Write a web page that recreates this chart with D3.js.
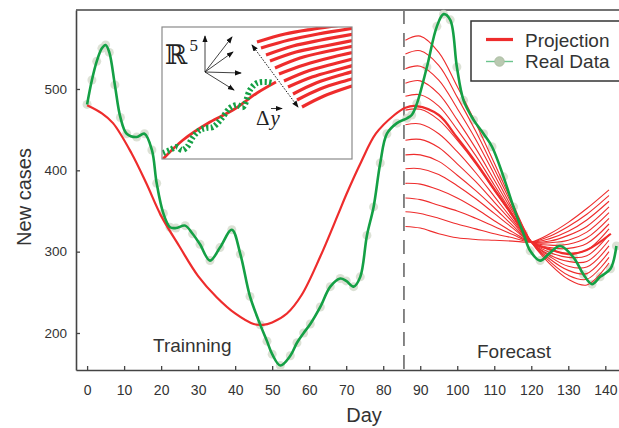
<!DOCTYPE html>
<html>
<head>
<meta charset="utf-8">
<script src="https://cdn.jsdelivr.net/npm/d3@7"></script>
<style>
  body { margin: 0; background: #fff; }
  svg { display: block; font-family: "Liberation Sans", Arial, sans-serif; }
</style>
</head>
<body>
<div id="chart"></div>
<script>
var width = 619, height = 428;

// real data (green curve + grey dots)
var realDays = [0, 1.3, 2.6, 4, 5, 6, 7.5, 9, 10.7, 13.4, 15.5, 17.5, 18.8, 20.6, 22.4, 24, 26.5, 28.5,
  30.5, 33.2, 35.9, 39.1, 41.4, 44, 46.8, 48.6, 50, 52.2, 54.9, 56.7, 58.5, 60.3, 63, 65.7, 68.4, 70,
  72, 73.8, 75.6, 77.4, 79.2, 81, 83.7, 86.4, 87.7, 89.1, 91.8, 94.5, 96.3, 98.1, 99.9, 101.7, 104.4,
  107.1, 109.4, 112.5, 115.2, 117.9, 119.7, 122.4, 124.7, 127.8, 131.4, 134.1, 136.4, 138.6, 141.4, 143];
var realValues = [481, 511, 534, 550, 554, 545, 505, 465, 445, 441, 445, 425, 384, 347, 330, 329, 332, 322,
  309, 289, 305, 327, 297, 245, 210, 190, 174, 160, 172, 188, 200, 211, 232, 257, 267, 264,
  257, 269, 320, 355, 409, 445, 458, 464, 468, 482, 527, 577, 592, 585, 527, 486, 462,
  445, 429, 392, 355, 322, 301, 289, 297, 307, 293, 272, 260, 269, 279, 307];

// fitted projection (thick red)
var fitDays = [0, 4, 7, 12, 16, 20, 25, 30, 35, 40, 45, 47.5, 50, 54, 58, 63, 68, 70, 74, 78, 83, 86,
  89, 95, 100, 105, 110, 115, 120, 125, 130, 135, 141.5];
var fitValues = [480, 470, 458, 421, 384, 344, 306, 270, 244, 224, 211, 210, 213, 224, 247, 294, 348, 370, 410, 445, 468, 477,
  479, 468, 440, 410, 377, 344, 312, 303, 297, 302, 322];

// forecast fan (thin red)
var fanDays = [86, 90, 95, 100, 105, 110, 115, 120, 125, 130, 135, 141];
var fanValues = [
  [560, 565, 545, 503, 458, 409, 359, 312, 285, 266, 259, 286],
  [543, 547, 529, 490, 448, 402, 356, 312, 288, 271, 266, 293],
  [525, 528, 511, 476, 438, 395, 352, 312, 291, 277, 273, 300],
  [507, 510, 494, 462, 427, 388, 349, 312, 294, 282, 281, 307],
  [491, 493, 479, 450, 418, 382, 346, 312, 296, 288, 288, 314],
  [474, 475, 462, 437, 408, 375, 343, 312, 299, 293, 295, 321],
  [456, 457, 445, 423, 397, 368, 339, 312, 302, 298, 302, 328],
  [437, 438, 428, 408, 386, 361, 336, 312, 305, 304, 310, 334],
  [419, 419, 411, 394, 375, 354, 332, 312, 308, 309, 317, 341],
  [402, 402, 395, 381, 365, 347, 329, 312, 311, 314, 324, 348],
  [384, 383, 376, 366, 353, 338, 324, 312, 313, 320, 331, 355],
  [366, 364, 357, 350, 341, 331, 321, 312, 316, 325, 339, 362],
  [349, 347, 341, 334, 328, 322, 317, 312, 319, 331, 346, 369],
  [331, 329, 322, 317, 315, 314, 313, 312, 322, 336, 353, 376]
];

var forecastStart = 85.6;
var xTicks = [0, 10, 20, 30, 40, 50, 60, 70, 80, 90, 100, 110, 120, 130, 140];
var yTicks = [200, 300, 400, 500];
var legendLabels = ["Projection", "Real Data"];

// inset sketch (units: px from the inset's lower-left corner)
var insetRed = [[1, 0], [21, 19], [48, 37], [71, 49], [95, 66], [114, 77]];
var insetGreen = [[1, 6], [8, 9], [15, 12], [20, 9], [25, 12], [31, 22], [38, 29], [44, 31], [51, 32],
  [60, 41], [68, 51], [75, 54], [81, 52], [88, 69], [95, 76], [105, 77], [111, 76]];
var insetFan = [
  [[95, 117], [123, 125], [152, 130], [195, 136]],
  [[99, 111], [127, 119], [156, 125], [199, 132]],
  [[104, 104], [131, 113], [159, 119], [204, 127]],
  [[108, 98], [134, 107], [163, 113], [208, 122]],
  [[113, 91], [138, 101], [167, 108], [213, 117]],
  [[117, 85], [142, 94], [171, 102], [217, 112]],
  [[122, 78], [146, 88], [175, 96], [222, 108]],
  [[126, 72], [150, 82], [178, 90], [226, 103]],
  [[131, 65], [154, 76], [182, 85], [231, 98]],
  [[135, 59], [158, 70], [186, 79], [235, 93]],
  [[140, 52], [162, 63], [190, 73], [240, 88]]
];
var insetAxisOrigin = [43, 87];
var insetAxisTips = [[43, 123], [70, 122], [71, 107], [79, 86], [72, 69]];
var insetDelta = [[90, 114], [136, 52]];

var red = "#ee2c2c", green = "#14a045";

var svg = d3.select("#chart").append("svg")
  .attr("width", width)
  .attr("height", height);

var x = d3.scaleLinear().domain([-3, 143.7]).range([76, 619]);
var y = d3.scaleLinear().domain([154.5, 597.1]).range([370, 10]);

var defs = svg.append("defs");
defs.append("marker")
  .attr("id", "head")
  .attr("viewBox", "0 -4 8 8")
  .attr("refX", 7).attr("refY", 0)
  .attr("markerWidth", 7).attr("markerHeight", 7)
  .attr("markerUnits", "userSpaceOnUse")
  .attr("orient", "auto-start-reverse")
  .append("path").attr("d", "M0,-3L8,0L0,3Z").attr("fill", "#111");

// axes
var xAxis = svg.append("g")
  .attr("transform", "translate(0,370)")
  .call(d3.axisBottom(x).tickValues(xTicks).tickSize(-4).tickSizeOuter(0).tickPadding(15.5));
var yAxis = svg.append("g")
  .attr("transform", "translate(76,0)")
  .call(d3.axisLeft(y).tickValues(yTicks).tickSize(-4).tickSizeOuter(0).tickPadding(9));
[xAxis, yAxis].forEach(function (g) {
  g.select(".domain").attr("stroke", "#444").attr("stroke-width", 1.6);
  g.selectAll(".tick line").attr("stroke", "#444").attr("stroke-width", 1.3);
  g.selectAll(".tick text").attr("fill", "#333").attr("font-family", "Liberation Sans, Arial, sans-serif");
});
xAxis.selectAll(".tick text").attr("font-size", 14);
yAxis.selectAll(".tick text").attr("font-size", 13.5);

svg.append("line")
  .attr("x1", 76).attr("x2", 619).attr("y1", 10).attr("y2", 10)
  .attr("stroke", "#444").attr("stroke-width", 1.6);

// dashed separator
svg.append("line")
  .attr("x1", x(forecastStart)).attr("x2", x(forecastStart))
  .attr("y1", y.range()[1]).attr("y2", y.range()[0])
  .attr("stroke", "#7a7a7a").attr("stroke-width", 1.8)
  .attr("stroke-dasharray", "14,9");

var lineGen = d3.line()
  .x(function (d) { return x(d[0]); })
  .y(function (d) { return y(d[1]); })
  .curve(d3.curveCatmullRom.alpha(0.5));

// grey data dots
svg.append("g").selectAll("circle")
  .data(realDays.map(function (d, i) { return [d, realValues[i]]; }))
  .join("circle")
  .attr("cx", function (d) { return x(d[0]); })
  .attr("cy", function (d) { return y(d[1]); })
  .attr("r", 4.5)
  .attr("fill", "#d3dacb")
  .attr("opacity", 0.8);

// fan
svg.append("g").selectAll("path")
  .data(fanValues)
  .join("path")
  .attr("d", function (vals) {
    return lineGen(fanDays.map(function (d, i) { return [d, vals[i]]; }));
  })
  .attr("fill", "none")
  .attr("stroke", red)
  .attr("stroke-width", 1.1);

// fit
svg.append("path")
  .attr("d", lineGen(fitDays.map(function (d, i) { return [d, fitValues[i]]; })))
  .attr("fill", "none")
  .attr("stroke", red)
  .attr("stroke-width", 2.2);

// real data curve
svg.append("path")
  .attr("d", lineGen(realDays.map(function (d, i) { return [d, realValues[i]]; })))
  .attr("fill", "none")
  .attr("stroke", green)
  .attr("stroke-width", 2.6);

// labels
svg.append("text").attr("x", 153).attr("y", 352)
  .attr("font-size", 19).attr("fill", "#333").text("Trainning");
svg.append("text").attr("x", 477).attr("y", 358)
  .attr("font-size", 19).attr("fill", "#333").text("Forecast");
svg.append("text").attr("x", 364).attr("y", 422)
  .attr("text-anchor", "middle").attr("font-size", 20).attr("fill", "#333").text("Day");
svg.append("text")
  .attr("transform", "translate(31,197) rotate(-90)")
  .attr("text-anchor", "middle").attr("font-size", 20).attr("fill", "#333").text("New cases");

// legend
var legend = svg.append("g");
legend.append("rect")
  .attr("x", 471).attr("y", 21).attr("width", 170).attr("height", 60)
  .attr("fill", "#fff").attr("stroke", "#333").attr("stroke-width", 1.5);
legend.append("line")
  .attr("x1", 486).attr("x2", 513).attr("y1", 39.5).attr("y2", 39.5)
  .attr("stroke", red).attr("stroke-width", 3.2);
legend.append("line")
  .attr("x1", 486).attr("x2", 513).attr("y1", 61.5).attr("y2", 61.5)
  .attr("stroke", "#6cc48d").attr("stroke-width", 1.4);
legend.append("circle")
  .attr("cx", 499.5).attr("cy", 61.5).attr("r", 4.8)
  .attr("fill", "#b9c9b1").attr("stroke", "#a7b99d").attr("stroke-width", 0.8);
legend.selectAll("text.lab")
  .data(legendLabels)
  .join("text")
  .attr("class", "lab")
  .attr("x", 525)
  .attr("y", function (d, i) { return 46.5 + i * 21.5; })
  .attr("font-size", 19).attr("fill", "#333")
  .text(function (d) { return d; });

// inset
var ix = d3.scaleLinear().domain([0, 190]).range([162, 352]);
var iy = d3.scaleLinear().domain([0, 132]).range([159, 27]);
defs.append("clipPath").attr("id", "insetClip")
  .append("rect").attr("x", 162).attr("y", 27).attr("width", 190).attr("height", 132);

var inset = svg.append("g");
inset.append("rect")
  .attr("x", 162).attr("y", 27).attr("width", 190).attr("height", 132)
  .attr("fill", "#fff");
var insetLine = d3.line()
  .x(function (d) { return ix(d[0]); })
  .y(function (d) { return iy(d[1]); })
  .curve(d3.curveCatmullRom.alpha(0.5));
var clipped = inset.append("g").attr("clip-path", "url(#insetClip)");
clipped.selectAll("path.fan")
  .data(insetFan)
  .join("path")
  .attr("class", "fan")
  .attr("d", insetLine)
  .attr("fill", "none")
  .attr("stroke", red)
  .attr("stroke-width", 3.2);
clipped.append("path")
  .attr("d", insetLine(insetRed))
  .attr("fill", "none").attr("stroke", red).attr("stroke-width", 2.8);
clipped.append("path")
  .attr("d", insetLine(insetGreen))
  .attr("fill", "none").attr("stroke", green).attr("stroke-width", 6)
  .attr("stroke-dasharray", "2.2,2.4");

inset.selectAll("line.ax")
  .data(insetAxisTips)
  .join("line")
  .attr("class", "ax")
  .attr("x1", ix(insetAxisOrigin[0])).attr("y1", iy(insetAxisOrigin[1]))
  .attr("x2", function (d) { return ix(d[0]); })
  .attr("y2", function (d) { return iy(d[1]); })
  .attr("stroke", "#111").attr("stroke-width", 0.8)
  .attr("marker-end", "url(#head)");

inset.append("line")
  .attr("x1", ix(insetDelta[0][0])).attr("y1", iy(insetDelta[0][1]))
  .attr("x2", ix(insetDelta[1][0])).attr("y2", iy(insetDelta[1][1]))
  .attr("stroke", "#111").attr("stroke-width", 1)
  .attr("stroke-dasharray", "1.5,1.5")
  .attr("marker-start", "url(#head)")
  .attr("marker-end", "url(#head)");

inset.append("text")
  .attr("x", 165).attr("y", 63.5)
  .attr("font-family", "DejaVu Serif, serif").attr("font-size", 27).attr("fill", "#222")
  .text("ℝ");
inset.append("text")
  .attr("x", 189.5).attr("y", 51)
  .attr("font-family", "Liberation Serif, serif").attr("font-size", 17).attr("fill", "#222")
  .text("5");
var dy = inset.append("text")
  .attr("x", 256).attr("y", 125)
  .attr("font-family", "Liberation Serif, serif").attr("font-size", 21).attr("fill", "#222");
dy.append("tspan").text("Δ");
dy.append("tspan").attr("font-style", "italic").attr("dx", 1).text("y");
inset.append("line")
  .attr("x1", 271).attr("x2", 282).attr("y1", 108.5).attr("y2", 108.5)
  .attr("stroke", "#222").attr("stroke-width", 0.9)
  .attr("marker-end", "url(#head)");

inset.append("rect")
  .attr("x", 162).attr("y", 27).attr("width", 190).attr("height", 132)
  .attr("fill", "none").attr("stroke", "#8a8a8a").attr("stroke-width", 1.2);
</script>
</body>
</html>
